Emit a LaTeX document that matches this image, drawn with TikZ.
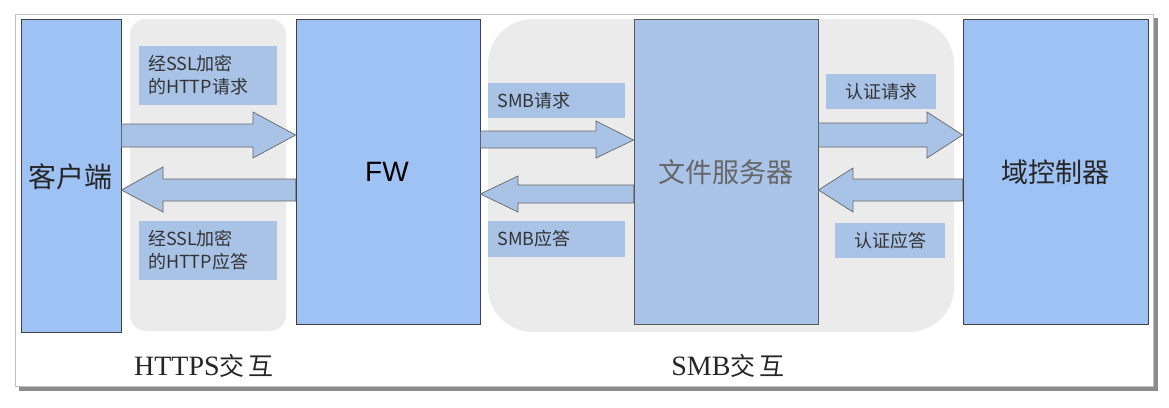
\documentclass[tikz,border=0pt]{standalone}
\usepackage{fontspec}
\setmainfont{Liberation Serif}
\newfontfamily\cjk{Noto Sans CJK SC}
\newfontfamily\fwfont{Liberation Sans}
\begin{document}
\begin{tikzpicture}[x=1pt,y=-1pt,
  mainbox/.style={draw=black!75,line width=0.8pt,fill=boxblue},
  fsbox/.style={draw=black!65,line width=0.8pt,fill=fsblue},
  lbl/.style={fill=lblblue,inner sep=0pt,font=\cjk\fontsize{18}{23}\selectfont,text=black!80},
  grp/.style={fill=grpgray},
  flow/.style={draw=black!60,line width=0.7pt,fill=arrblue,line join=miter},
  captxt/.style={font=\fontsize{28}{30}\selectfont,text=black!85}
]
\definecolor{boxblue}{HTML}{9EC2F3}
\definecolor{fsblue}{HTML}{AAC3E8}
\definecolor{lblblue}{HTML}{A9C3E7}
\definecolor{arrblue}{HTML}{A9C3E7}
\definecolor{grpgray}{HTML}{EBEBEB}
\useasboundingbox (0,0) rectangle (1169,407);
% frame
\fill[black!45] (19,18) rectangle (1158,391);
\fill[white,draw=black!25,line width=1pt] (15,14) rectangle (1153,386);
% groups
\fill[grp,rounded corners=16pt] (130,19) rectangle (286,331);
\fill[grp,rounded corners=45pt] (488,19) rectangle (954,332);
% boxes
\node[mainbox,minimum width=100,minimum height=313,inner sep=0pt] (cl) at (71,175.5) {};
\node[font=\cjk\fontsize{28}{30}\selectfont,text=black!85] (clt) at (70,177) {客户端};
\node[mainbox,minimum width=184,minimum height=305,inner sep=0pt] (fw) at (388,171.5) {};
\node[font=\fwfont\fontsize{28}{30}\selectfont,text=black] (fwt) at (387,172) {FW};
\node[fsbox,minimum width=184,minimum height=305,inner sep=0pt] (fs) at (726,171.5) {};
\node[font=\cjk\fontsize{27}{30}\selectfont,text=black!60] (fst) at (726,172) {文件服务器};
\node[mainbox,minimum width=185,minimum height=305,inner sep=0pt] (dc) at (1055.5,171.5) {};
\node[font=\cjk\fontsize{27}{30}\selectfont,text=black!85] (dct) at (1055,172) {域控制器};
% labels
\node[lbl,minimum width=138,minimum height=59,align=left,text width=120] (l1) at (208,75.5) {经SSL加密\\的HTTP请求};
\node[lbl,minimum width=138,minimum height=59,align=left,text width=120] (l2) at (208,250.5) {经SSL加密\\的HTTP应答};
\node[lbl,minimum width=137,minimum height=35,align=left,text width=118] (l3) at (556.5,100.5) {SMB请求};
\node[lbl,minimum width=137,minimum height=36,align=left,text width=118] (l4) at (556.5,239) {SMB应答};
\node[lbl,minimum width=110,minimum height=35] (l5) at (881,91.5) {认证请求};
\node[lbl,minimum width=110,minimum height=35] (l6) at (890,240.5) {认证应答};
% arrows
\draw[flow] (cl.east|-0,124) -- (253,124) -- (253,112) -- (fw.west|-0,135) -- (253,158) -- (253,147) -- (cl.east|-0,147) -- cycle;
\draw[flow] (fw.west|-0,179) -- (163,179) -- (163,167) -- (cl.east|-0,190) -- (163,212) -- (163,201) -- (fw.west|-0,201) -- cycle;
\draw[flow] (fw.east|-0,131) -- (596,131) -- (596,121) -- (fs.west|-0,140) -- (596,158) -- (596,148) -- (fw.east|-0,148) -- cycle;
\draw[flow] (fs.west|-0,185) -- (518,185) -- (518,176) -- (fw.east|-0,194) -- (518,212) -- (518,203) -- (fs.west|-0,203) -- cycle;
\draw[flow] (fs.east|-0,123) -- (927,123) -- (927,112) -- (dc.west|-0,135) -- (927,158) -- (927,147) -- (fs.east|-0,147) -- cycle;
\draw[flow] (dc.west|-0,179) -- (853,179) -- (853,168) -- (fs.east|-0,190) -- (853,212) -- (853,201) -- (dc.west|-0,201) -- cycle;
% captions
\node[captxt] (c1) at (204,366) {HTTPS{\cjk\fontsize{25}{30}\selectfont 交\,互}};
\node[captxt] (c2) at (728,366) {SMB{\cjk\fontsize{25}{30}\selectfont 交\,互}};
\end{tikzpicture}
\end{document}
